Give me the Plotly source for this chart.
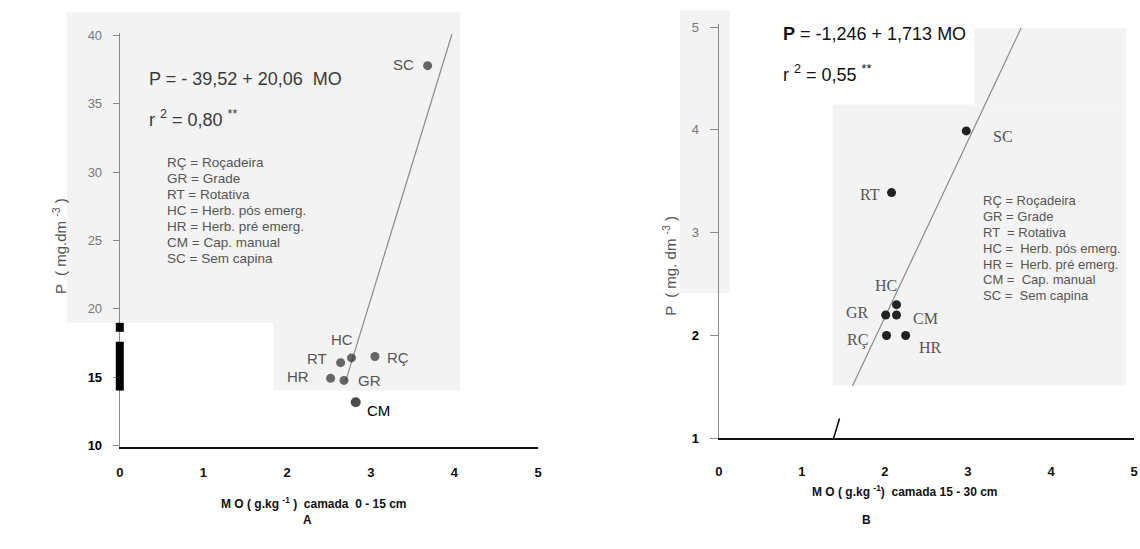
import plotly.graph_objects as go

W, H = 1140, 549

# ---------------- data ----------------
# Panel A : MO camada 0-15 cm
a_labels = ["SC", "HC", "RT", "RÇ", "HR", "GR", "CM"]
a_mo = [3.68, 2.77, 2.64, 3.05, 2.52, 2.68, 2.82]
a_p = [37.8, 16.4, 16.05, 16.5, 14.9, 14.75, 13.15]
a_fit_x = [2.70, 3.97]
a_fit_y = [14.7, 40.1]
a_yticks = [10, 15, 20, 25, 30, 35, 40]
a_xticks = [0, 1, 2, 3, 4, 5]

# Panel B : MO camada 15-30 cm
b_labels = ["SC", "RT", "HC", "GR", "CM", "RÇ", "HR"]
b_mo = [2.98, 2.08, 2.14, 2.01, 2.14, 2.02, 2.25]
b_p = [3.99, 3.39, 2.30, 2.20, 2.20, 2.00, 2.00]
b_fit_x = [1.61, 3.64]
b_fit_y = [1.51, 4.99]
b_yticks = [1, 2, 3, 4, 5]
b_xticks = [0, 1, 2, 3, 4, 5]

legend_lines_a = ["RÇ = Roçadeira", "GR = Grade", "RT = Rotativa", "HC = Herb. pós emerg.",
                  "HR = Herb. pré emerg.", "CM = Cap. manual", "SC = Sem capina"]
legend_lines_b = ["RÇ = Roçadeira", "GR = Grade", "RT  = Rotativa", "HC =  Herb. pós emerg.",
                  "HR =  Herb. pré emerg.", "CM =  Cap. manual", "SC =  Sem capina"]

# mapping from reference-picture pixels to figure pixels
SX, OX = 0.9947, 3.0
SY, OY = 0.98, 3.0


def fx(x):
    return (x - OX) / SX


def fy(y):
    return (y - OY) / SY


def px(x, y):
    return fx(x) / W, 1 - fy(y) / H


SANS = "Liberation Sans, Arial, sans-serif"
SERIF = "Liberation Serif, Times New Roman, serif"
GRAY = "#555555"

fig = go.Figure()

# regression lines
fig.add_trace(go.Scatter(x=a_fit_x, y=a_fit_y, mode="lines", line=dict(color="#8a8a8a", width=1.2),
                         xaxis="x", yaxis="y", hoverinfo="skip", showlegend=False))
fig.add_trace(go.Scatter(x=b_fit_x, y=b_fit_y, mode="lines", line=dict(color="#8a8a8a", width=1.2),
                         xaxis="x2", yaxis="y2", hoverinfo="skip", showlegend=False))

# points
a_colors = ["#2a2a2a" if l != "CM" else "#000000" for l in a_labels]
a_sizes = [9 if l != "CM" else 10 for l in a_labels]
fig.add_trace(go.Scatter(x=a_mo, y=a_p, mode="markers", text=a_labels,
                         marker=dict(color=a_colors, size=a_sizes, line=dict(width=0)),
                         xaxis="x", yaxis="y", showlegend=False))
fig.add_trace(go.Scatter(x=b_mo, y=b_p, mode="markers", text=b_labels,
                         marker=dict(color="#222222", size=9, line=dict(width=0)),
                         xaxis="x2", yaxis="y2", showlegend=False))

ann = []

# point labels (pixel centre positions)
a_lab_pos = {"SC": (403, 63), "HC": (342, 339), "RT": (317, 358), "RÇ": (398, 357),
             "HR": (298, 376), "GR": (369, 380), "CM": (378, 410)}
for lab in a_labels:
    x, y = px(*a_lab_pos[lab])
    col = "#000000" if lab == "CM" else GRAY
    ann.append(dict(x=x, y=y, xref="paper", yref="paper", text=lab, showarrow=False,
                    xanchor="center", yanchor="middle", font=dict(family=SANS, size=15, color=col)))

b_lab_pos = {"SC": (1004, 135), "RT": (870, 193), "HC": (887, 285), "GR": (858, 312),
             "CM": (926, 318), "RÇ": (858, 339), "HR": (931, 347)}
for lab in b_labels:
    x, y = px(*b_lab_pos[lab])
    ann.append(dict(x=x, y=y, xref="paper", yref="paper", text=lab, showarrow=False,
                    xanchor="center", yanchor="middle", font=dict(family=SERIF, size=16, color=GRAY)))


def left_text(xp, yp, text, size, color, family=SANS):
    x, y = px(xp, yp)
    ann.append(dict(x=x, y=y, xref="paper", yref="paper", text=text, showarrow=False,
                    xanchor="left", yanchor="middle", font=dict(family=family, size=size, color=color)))


left_text(146, 77, "P = - 39,52 + 20,06  MO", 18, "#3a3a3a")
left_text(146, 117, "r <sup>2</sup> = 0,80 <sup>**</sup>", 18, "#3a3a3a")
for i, t in enumerate(legend_lines_a):
    left_text(164, 161 + 16 * i, t, 13.5, GRAY)

left_text(781, 32, "<b>P</b> = -1,246 + 1,713 MO", 18, "#111111")
left_text(781, 72, "r <sup>2</sup> = 0,55 <sup>**</sup>", 18, "#111111")
for i, t in enumerate(legend_lines_b):
    left_text(982, 199 + 16 * i, t, 13, GRAY)


def centre_text(xp, yp, text, size, color, angle=0, family=SANS):
    x, y = px(xp, yp)
    ann.append(dict(x=x, y=y, xref="paper", yref="paper", text=text, showarrow=False, textangle=angle,
                    xanchor="center", yanchor="middle", font=dict(family=family, size=size, color=color)))


centre_text(314, 503, "<b>M O ( g.kg <sup>-1</sup> )  camada  0 - 15 cm</b>", 12, "#111111")
centre_text(906, 491, "<b>M O ( g.kg <sup>-1</sup>)  camada 15 - 30 cm</b>", 12, "#111111")
centre_text(307, 520, "<b>A</b>", 12, "#111111")
centre_text(867, 520, "<b>B</b>", 12, "#111111")
centre_text(58, 245, "P  ( mg.dm <sup>-3</sup> )", 15, GRAY, angle=-90)
centre_text(669, 265, "P  ( mg. dm <sup>-3</sup> )", 15, GRAY, angle=-90)

# scan background patches and marks
shapes = []


def rect(x0, y0, x1, y1, color, layer="below"):
    ax0, ay0 = px(x0, y0)
    ax1, ay1 = px(x1, y1)
    shapes.append(dict(type="rect", xref="paper", yref="paper", x0=ax0, y0=ay0, x1=ax1, y1=ay1,
                       fillcolor=color, line=dict(width=0), layer=layer))


PATCH = "#f3f3f3"
rect(66, 10, 460, 322, PATCH)
rect(273, 322, 460, 390, PATCH)
rect(680, 8, 730, 292, PATCH)
rect(833, 103, 1127, 385, PATCH)
rect(975, 26, 1127, 103, PATCH)
rect(115, 322, 123, 331, "#000000", layer="above")
rect(115, 341, 123, 390, "#000000", layer="above")
l0 = px(834, 438)
l1 = px(840, 418)
shapes.append(dict(type="line", xref="paper", yref="paper", x0=l0[0], y0=l0[1], x1=l1[0], y1=l1[1],
                   line=dict(color="#000000", width=1.5)))


def tt(vals, black_from):
    out = []
    for v in vals:
        if v <= black_from:
            out.append("<b><span style='color:#000'>%d</span></b>" % v)
        else:
            out.append("%d" % v)
    return out


def dom_x(a, b):
    return [fx(a) / W, fx(b) / W]


def dom_y(bottom, top):
    return [1 - fy(bottom) / H, 1 - fy(top) / H]


fig.update_layout(
    width=W, height=H,
    margin=dict(l=0, r=0, t=0, b=0),
    paper_bgcolor="white", plot_bgcolor="rgba(0,0,0,0)",
    showlegend=False,
    annotations=ann, shapes=shapes,
    xaxis=dict(domain=dom_x(119, 538), range=[0, 5.0], tickvals=a_xticks,
               ticktext=["<b>%d</b>" % v for v in a_xticks],
               showgrid=False, zeroline=False, showline=True, linecolor="#111111", linewidth=2,
               ticks="", ticklabelstandoff=12, tickfont=dict(family=SANS, size=13, color="#111111"),
               anchor="y"),
    yaxis=dict(domain=dom_y(447, 31), range=[9.85, 40.2], tickvals=a_yticks,
               ticktext=tt(a_yticks, 15),
               showgrid=False, zeroline=False, showline=True, linecolor="#8a8a8a", linewidth=1.2,
               ticks="outside", ticklen=6, tickcolor="#8a8a8a", ticklabelstandoff=8,
               tickfont=dict(family=SANS, size=13, color="#777777"), anchor="x"),
    xaxis2=dict(domain=dom_x(719, 1135), range=[0, 5.0], tickvals=b_xticks,
                ticktext=["<b>%d</b>" % v for v in b_xticks],
                showgrid=False, zeroline=False, showline=True, linecolor="#111111", linewidth=2,
                ticks="", ticklabelstandoff=20, tickfont=dict(family=SANS, size=13, color="#111111"),
                anchor="y2"),
    yaxis2=dict(domain=dom_y(438, 22), range=[1, 5.03], tickvals=b_yticks,
                ticktext=tt(b_yticks, 2),
                showgrid=False, zeroline=False, showline=True, linecolor="#8a8a8a", linewidth=1.2,
                ticks="outside", ticklen=8, tickcolor="#8a8a8a", ticklabelstandoff=8,
                tickfont=dict(family=SANS, size=13, color="#777777"), anchor="x2"),
)

fig.write_html("out.html")
